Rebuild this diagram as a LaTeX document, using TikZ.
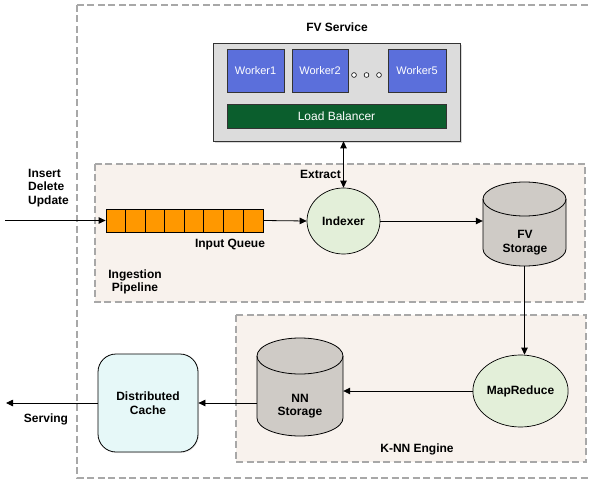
\documentclass[tikz,border=0pt]{standalone}
\usepackage{fontspec}
\setmainfont{Liberation Sans}
\usetikzlibrary{arrows.meta,shadows,shapes.geometric,calc}
\definecolor{dashgray}{HTML}{A8A8A8}
\definecolor{zonefill}{HTML}{F8F2ED}
\definecolor{svcfill}{HTML}{DCDCDC}
\definecolor{workerblue}{HTML}{5B6FDB}
\definecolor{lbgreen}{HTML}{0B5E2D}
\definecolor{nodegreen}{HTML}{E3EFD9}
\definecolor{cylfill}{HTML}{CFCBC6}
\definecolor{cachefill}{HTML}{E6F8F8}
\definecolor{queueorange}{HTML}{FF9800}
\tikzset{
  zone/.style={draw=dashgray, line width=1.4pt, dash pattern=on 7pt off 3.5pt},
  lbl/.style={font=\fontsize{12}{13.5}\selectfont\bfseries, inner sep=0pt},
  worker/.style={draw=black!80, line width=0.6pt, fill=workerblue, text=white,
    font=\fontsize{11}{13}\selectfont, minimum height=43pt, inner sep=0pt,
    drop shadow={opacity=0.25, shadow xshift=1.2pt, shadow yshift=-1.2pt}},
  proc/.style={ellipse, draw=black, line width=0.7pt, fill=nodegreen, inner sep=0pt,
    font=\fontsize{12}{13.5}\selectfont\bfseries},
  cylbox/.style={draw=none, inner sep=0pt},
  conn/.style={line width=0.8pt, -{Triangle[length=7pt,width=6.5pt]}},
  dot/.style={circle, draw=black, line width=0.6pt, fill=white, minimum size=4.8pt, inner sep=0pt}
}
\begin{document}
\begin{tikzpicture}[x=1pt,y=1pt]
\useasboundingbox (0,0) rectangle (591,-481);
% outer dashed box
\begin{scope}
\clip (0,0) rectangle (591,-481);
\draw[zone] (77,-5) rectangle (610,-478);
\end{scope}
% zones
\draw[zone, fill=zonefill] (95,-164) rectangle (585,-302);
\draw[zone, fill=zonefill] (236,-315) rectangle (586,-462);

% FV service
\node[lbl] (fvtitle) at (337,-27) {FV Service};
\node[draw=black!80, line width=0.7pt, fill=svcfill, minimum width=247pt, minimum height=98pt,
  drop shadow={opacity=0.3, shadow xshift=2pt, shadow yshift=-2pt}] (svc) at (336.5,-92) {};
\node[worker, minimum width=57pt] (w1) at (255.5,-70.5) {Worker1};
\node[worker, minimum width=56pt] (w2) at (320,-70.5) {Worker2};
\node[worker, minimum width=58pt] (w5) at (417,-70.5) {Worker5};
\node[dot] (d1) at (354,-75) {};
\node[dot] (d2) at (366.5,-75) {};
\node[dot] (d3) at (379,-75) {};
\node[draw=black!80, line width=0.6pt, fill=lbgreen, text=white, font=\fontsize{12}{13}\selectfont,
  minimum width=219pt, minimum height=24pt, inner sep=0pt,
  drop shadow={opacity=0.25, shadow xshift=1.2pt, shadow yshift=-1.2pt}] (lb) at (336.5,-116) {Load Balancer};

% Ingestion pipeline
\node[lbl, align=left, anchor=west] (ops) at (28,-188) {Insert\\Delete\\Update};
\node[draw=black, line width=0.8pt, fill=queueorange, minimum width=157pt, minimum height=23pt, inner sep=0pt] (queue) at (184.5,-220.5) {};
\foreach \i in {1,...,7} {
  \draw[line width=0.7pt] ($(queue.south west)+(\i*19.625,0)$) -- ($(queue.north west)+(\i*19.625,0)$);
}
\node[lbl] (qlbl) at (230,-245) {Input Queue};
\node[lbl, align=center] (inglbl) at (135,-282) {Ingestion\\Pipeline};
\node[proc, minimum width=73pt, minimum height=66pt] (idx) at (343.5,-221) {Indexer};
\node[lbl, anchor=east] (extract) at (341,-174) {Extract};

% FV storage cylinder
\node[cylbox, minimum width=83pt, minimum height=84pt] (fv) at (524.5,-224) {};
\draw[line width=0.8pt, fill=cylfill] (483,-199) -- (483,-249) arc (180:360:41.5 and 17) -- (566,-199) arc (0:180:41.5 and 17) -- cycle;
\draw[line width=0.8pt] (483,-199) arc (180:360:41.5 and 17);
\node[lbl, align=center] (fvlbl) at (525,-242.5) {FV\\Storage};

% K-NN engine
\node[proc, minimum width=85pt, minimum height=72pt] (mr) at (520.5,-391) {MapReduce};
\node[cylbox, minimum width=86pt, minimum height=98pt] (nn) at (300,-387) {};
\draw[line width=0.8pt, fill=cylfill] (257,-356) -- (257,-418) arc (180:360:43 and 18) -- (343,-356) arc (0:180:43 and 18) -- cycle;
\draw[line width=0.8pt] (257,-356) arc (180:360:43 and 18);
\node[lbl, align=center] (nnlbl) at (300,-406) {NN\\Storage};
\node[lbl] (knnlbl) at (417,-449) {K-NN Engine};

% cache
\node[draw=black, line width=0.8pt, fill=cachefill, rounded corners=18pt, minimum width=100pt, minimum height=98pt,
  align=center, font=\fontsize{12}{13.5}\selectfont\bfseries,
  drop shadow={opacity=0.15, shadow xshift=1pt, shadow yshift=-1pt}] (cache) at (148,-403) {Distributed\\Cache};
\node[lbl] (serving) at (46,-419) {Serving};

% connectors
\coordinate (src) at (5,-220.5);
\coordinate (dst) at (6,-403);
\draw[conn] (src) -- (queue.west);
\draw[conn] (queue.east) -- (idx.west);
\draw[line width=0.8pt, {Triangle[length=7pt,width=6.5pt]}-{Triangle[length=7pt,width=6.5pt]}] (idx.north |- svc.south) -- (idx.north);
\draw[conn] (idx.east) -- (idx.east -| fv.west);
\draw[conn] (fv.south) -- (fv.south |- mr.north);
\draw[conn] (mr.west) -- (mr.west -| nn.east);
\draw[conn] (nn.west |- cache.east) -- (cache.east);
\draw[conn] (cache.west) -- (dst);
\end{tikzpicture}
\end{document}
